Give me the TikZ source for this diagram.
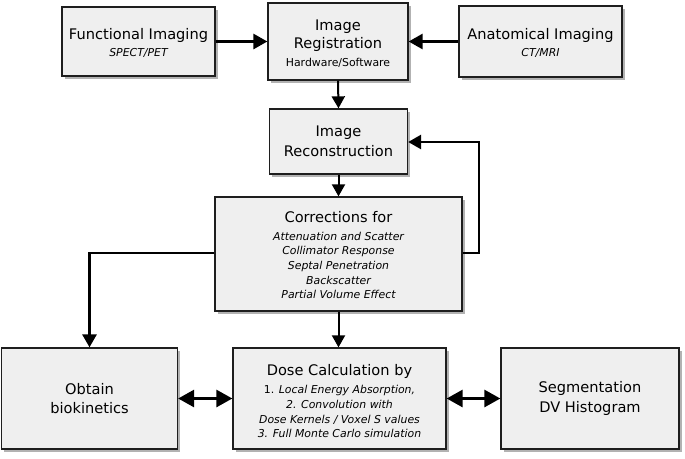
\documentclass[tikz,border=0pt]{standalone}
\usepackage{fontspec}
\setmainfont{DejaVu Sans}
\usetikzlibrary{arrows.meta,shadows}
\definecolor{boxfill}{HTML}{EFEFEF}
\definecolor{boxline}{HTML}{1E1E1E}
\newcommand{\bigf}{\fontsize{14.6}{19.5}\selectfont\upshape}
\newcommand{\sm}{\fontsize{10.9}{14.7}\selectfont}
\tikzset{
  blk/.style={draw=boxline, line width=1.3pt, fill=boxfill, align=center,
    inner sep=0pt, anchor=center,
    drop shadow={shadow xshift=2.5pt, shadow yshift=-2.5pt, fill=black!55, opacity=0.55}},
  big/.style={font=\bigf},
  small/.style={font=\sm},
  smallit/.style={font=\sm\itshape},
  thickarr/.style={line width=2.8pt, -{Triangle[length=14pt,width=15pt]}},
  thinarr/.style={line width=2pt, -{Triangle[length=12pt,width=13pt]}},
  fbarr/.style={line width=2.8pt, -{Triangle[length=13pt,width=14pt]}},
  biarr/.style={line width=2.8pt, {Triangle[length=16pt,width=17pt]}-{Triangle[length=16pt,width=17pt]}},
}
\begin{document}
\begin{tikzpicture}[x=1pt,y=-1pt]
\useasboundingbox (0,0) rectangle (685,458);
\node[blk, smallit, minimum width=153pt, minimum height=69pt] (func) at (138.5,41.5)
  {\bigf\rule{0pt}{15pt}Functional Imaging\\[2.3pt]SPECT/PET};
\node[blk, small, minimum width=140pt, minimum height=77pt] (reg) at (338,41.5)
  {\bigf\rule{0pt}{15.5pt}Image\\[3.3pt]\bigf Registration\\[3.3pt]Hardware/Software};
\node[blk, smallit, minimum width=163pt, minimum height=71pt] (anat) at (540.5,41.5)
  {\bigf\rule{0pt}{15pt}Anatomical Imaging\\[2.3pt]CT/MRI};
\node[blk, big, minimum width=138pt, minimum height=65pt] (recon) at (338.5,141.5)
  {Image\\Reconstruction};
\node[blk, smallit, minimum width=247pt, minimum height=114pt] (corr) at (338.5,254)
  {\bigf\rule{0pt}{13pt}Corrections for\\[3.3pt]Attenuation and Scatter\\Collimator Response\\Septal Penetration\\Backscatter\\Partial Volume Effect};
\node[blk, smallit, minimum width=213pt, minimum height=101pt] (dose) at (339.5,398.5)
  {\bigf\rule{0pt}{17pt}Dose Calculation by\\[3.3pt]\upshape 1. \itshape Local Energy Absorption,\\2. Convolution with\\Dose Kernels / Voxel S values\\3. Full Monte Carlo simulation};
\node[blk, big, minimum width=176pt, minimum height=101pt] (obtain) at (89.5,398.5)
  {Obtain\\biokinetics};
\node[blk, big, minimum width=178pt, minimum height=101pt] (seg) at (590,398.5)
  {Segmentation\\DV Histogram};

\coordinate (fbr) at (479,253);
\coordinate (fbt) at (479,142);
\coordinate (lcorner) at (89.5,253);

\draw[thickarr] (func.east) -- (reg.west);
\draw[thickarr] (anat.west) -- (reg.east);
\draw[thinarr] (reg.south) -- (recon.north);
\draw[thinarr] (recon.south) -- (corr.north);
\draw[thinarr] (corr.south) -- (corr.south |- dose.north);
\draw[fbarr] (corr.east |- fbr) -- (fbr) -- (fbt) -- (recon.east |- fbt);
\draw[fbarr] (corr.west |- lcorner) -- (lcorner) -- (obtain.north);
\draw[biarr] (obtain.east) -- (dose.west);
\draw[biarr] (dose.east) -- (seg.west);
\end{tikzpicture}
\end{document}
